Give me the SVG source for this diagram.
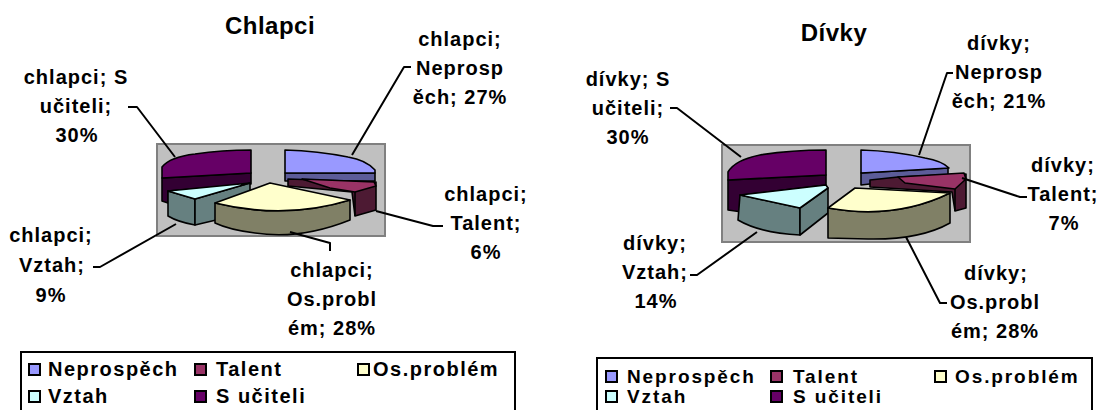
<svg xmlns="http://www.w3.org/2000/svg" width="1111" height="410" viewBox="0 0 1111 410">
<style>
text{font-family:"Liberation Sans",Arial,sans-serif;font-weight:bold;fill:#000}
.title{font-size:24px;letter-spacing:0.5px;text-anchor:middle}
.lbl{font-size:20px;letter-spacing:1px;text-anchor:middle}
.leg{font-size:20px;letter-spacing:1.5px}
.leg2{font-size:19px;letter-spacing:1.9px}
.plot{fill:#C0C0C0;stroke:#808080;stroke-width:2}
.pie path{stroke:#000;stroke-width:1.6;stroke-linejoin:round}
.np-t{fill:#9999FF}.np-s{fill:#5C5C99}
.ta-t{fill:#993366}.ta-s{fill:#4D1A33}
.os-t{fill:#FFFFCC}.os-s{fill:#808066}
.vz-t{fill:#CCFFFF}.vz-s{fill:#668080}
.su-t{fill:#660066}.su-s{fill:#330033}
.lead{fill:none;stroke:#000;stroke-width:2;stroke-linejoin:round}
.legbox{fill:#fff;stroke:#000;stroke-width:2}
.sw{stroke:#000;stroke-width:2}
</style>
<rect width="1111" height="410" fill="#fff"/>

<g id="chart-chlapci">
<text class="title" x="270" y="34">Chlapci</text>
<rect class="plot" x="157" y="144" width="228" height="92"/>
<g class="pie">
<g id="l-ucitel"><path class="su-s" d="M162,178 L251,173 L251,184 L168,191 L168,203 L162,201 Z"/><path class="su-t" d="M251,150 L251,173 L162,178 L162,167 Q170,157 195,154 Q222,150 251,150 Z"/></g>
<g id="l-neprospech"><path class="np-s" d="M285,173 L375,173 L375,181 L285,181 Z"/><path class="np-t" d="M285,150 L285,173 L375,173 L375,170 Q366,160 348,157 Q318,151 285,150 Z"/></g>
<g id="l-talent"><path class="ta-s" d="M288,179 L376,182 L376,210 L355,216 L352,192 L288,186 Z"/><path class="ta-t" d="M302,179 L374,182 L376,186 L355,192 L330,188 Z"/><path fill="none" d="M355,192 L355,216"/></g>
<g id="l-vztah"><path class="vz-s" d="M168,191 L195,199 L195,225 Q178,222 168,216 Z"/><path class="vz-s" d="M195,199 L250,183 L250,212 L195,225 Z"/><path class="vz-t" d="M168,191 L250,183 L195,199 Z"/></g>
<g id="l-osproblem"><path class="os-s" d="M215,203 Q285,220 350,200 L350,220 Q300,240 255,233 Q230,230 215,223 Z"/><path class="os-t" d="M215,203 L270,183 L350,200 Q285,220 215,203 Z"/></g>
</g>
<g id="l-labels">
<text class="lbl" x="76" y="84">chlapci; S</text><text class="lbl" x="76" y="113">učiteli;</text><text class="lbl" x="77" y="142">30%</text>
<text class="lbl" x="460" y="46">chlapci;</text><text class="lbl" x="460" y="75">Neprosp</text><text class="lbl" x="460" y="104">ěch; 27%</text>
<text class="lbl" x="486" y="201">chlapci;</text><text class="lbl" x="486" y="230">Talent;</text><text class="lbl" x="486" y="259">6%</text>
<text class="lbl" x="332" y="277">chlapci;</text><text class="lbl" x="332" y="306">Os.probl</text><text class="lbl" x="332" y="335">ém; 28%</text>
<text class="lbl" x="51" y="242">chlapci;</text><text class="lbl" x="52" y="272">Vztah;</text><text class="lbl" x="51" y="302">9%</text>
</g>
</g>

<g id="chart-divky">
<text class="title" x="834" y="41">Dívky</text>
<rect class="plot" x="722" y="145" width="248" height="97"/>
<g class="pie">
<g id="r-ucitel"><path class="su-s" d="M728,180 L826,175 L826,185 L742,195 L742,212 L728,210 Z"/><path class="su-t" d="M826,150 L826,175 L728,180 L728,172 Q735,160 760,155 Q790,150 826,150 Z"/></g>
<g id="r-neprospech"><path class="np-s" d="M861,173 L948,168 L948,175 L861,185 Z"/><path class="np-t" d="M861,150 L861,173 L949,168 Q942,161 925,158 Q895,151 861,150 Z"/></g>
<g id="r-talent"><path class="ta-s" d="M870,180 L898,177 L966,174 L966,208 L955,211 L952,192 L870,187 Z"/><path class="ta-t" d="M898,177 L964,173 L966,179 L955,189 L905,183 Z"/><path fill="none" d="M955,189 L955,211"/></g>
<g id="r-vztah"><path class="vz-s" d="M740,195 L800,208 L800,235 Q760,233 738,220 Z"/><path class="vz-s" d="M800,208 L828,188 L828,213 L800,235 Z"/><path class="vz-t" d="M740,195 L826,185 L828,188 L800,208 Z"/></g>
<g id="r-osproblem"><path class="os-s" d="M828,208 Q895,220 950,193 L950,223 Q920,240 868,239 L828,238 Z"/><path class="os-t" d="M828,208 L855,188 L950,193 Q895,220 828,208 Z"/></g>
</g>
<g id="r-labels">
<text class="lbl" x="628" y="86">dívky; S</text><text class="lbl" x="628" y="115">učiteli;</text><text class="lbl" x="628" y="144">30%</text>
<text class="lbl" x="999" y="50">dívky;</text><text class="lbl" x="999" y="79">Neprosp</text><text class="lbl" x="999" y="108">ěch; 21%</text>
<text class="lbl" x="1063" y="172">dívky;</text><text class="lbl" x="1063" y="201">Talent;</text><text class="lbl" x="1064" y="230">7%</text>
<text class="lbl" x="655" y="250">dívky;</text><text class="lbl" x="655" y="279">Vztah;</text><text class="lbl" x="656" y="308">14%</text>
<text class="lbl" x="996" y="280">dívky;</text><text class="lbl" x="995" y="309">Os.probl</text><text class="lbl" x="995" y="338">ém; 28%</text>
</g>
</g>

<g id="connectors">
<path class="lead" d="M128,107 L137,107 L175,157"/>
<path class="lead" d="M411,67 L404,67 L352,155"/>
<path class="lead" d="M443,226 L433,226 L376,211"/>
<path class="lead" d="M290,232 L330,243 L330,251"/>
<path class="lead" d="M93,267 L100,267 L176,224"/>
<path class="lead" d="M670,108 L677,108 L741,157"/>
<path class="lead" d="M953,73 L947,73 L919,155"/>
<path class="lead" d="M1027,197 L1020,197 L962,178"/>
<path class="lead" d="M690,275 L697,275 L757,232"/>
<path class="lead" d="M947,303 L940,303 L906,237"/>
</g>

<g id="legend-chlapci">
<rect class="legbox" x="21" y="352" width="494" height="70"/>
<rect class="sw np-t" x="29" y="364" width="11" height="11"/><text class="leg" x="48" y="376">Neprospěch</text>
<rect class="sw ta-t" x="195" y="364" width="11" height="11"/><text class="leg" x="216" y="376">Talent</text>
<rect class="sw os-t" x="358" y="364" width="11" height="11"/><text class="leg" x="373" y="376">Os.problém</text>
<rect class="sw vz-t" x="29" y="391" width="11" height="11"/><text class="leg" x="48" y="403">Vztah</text>
<rect class="sw su-t" x="195" y="391" width="11" height="11"/><text class="leg" x="216" y="403">S učiteli</text>
</g>

<g id="legend-divky">
<rect class="legbox" x="597" y="358" width="495" height="64"/>
<rect class="sw np-t" x="606" y="371" width="11" height="11"/><text class="leg2" x="627" y="383">Neprospěch</text>
<rect class="sw ta-t" x="771" y="371" width="11" height="11"/><text class="leg2" x="793" y="383">Talent</text>
<rect class="sw os-t" x="935" y="371" width="11" height="11"/><text class="leg2" x="955" y="383">Os.problém</text>
<rect class="sw vz-t" x="606" y="391" width="11" height="11"/><text class="leg2" x="627" y="403">Vztah</text>
<rect class="sw su-t" x="771" y="391" width="11" height="11"/><text class="leg2" x="793" y="403">S učiteli</text>
</g>
</svg>
